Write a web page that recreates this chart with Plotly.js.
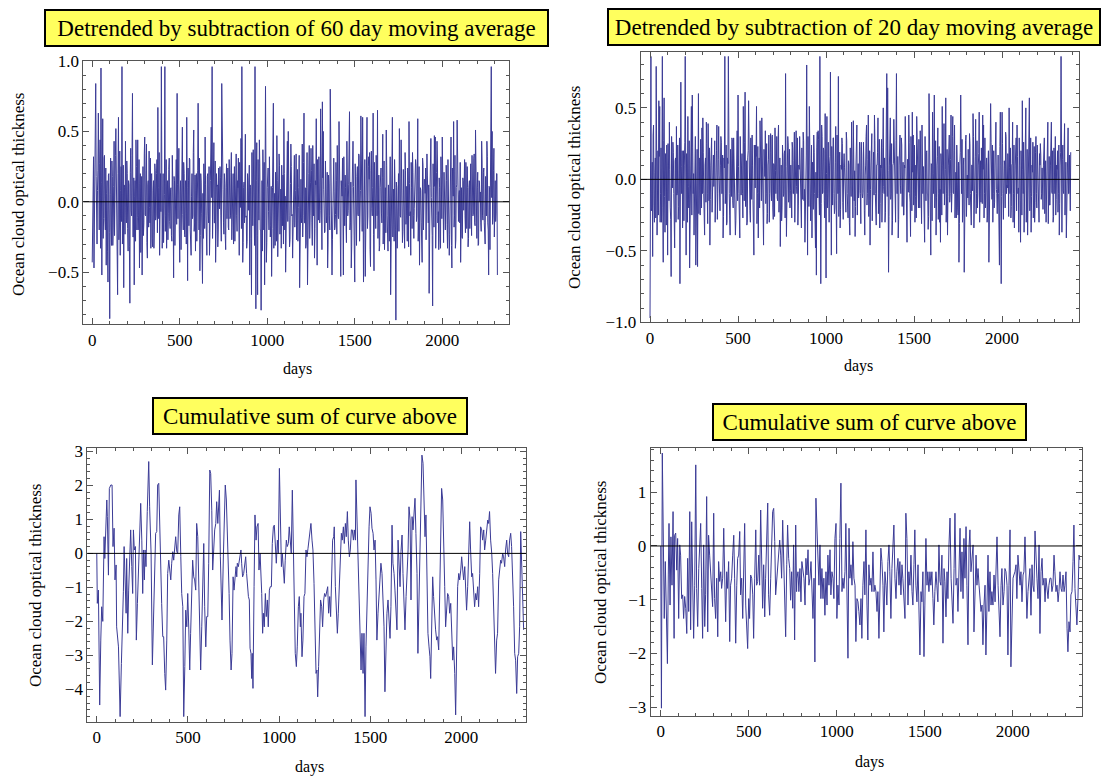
<!DOCTYPE html>
<html><head><meta charset="utf-8">
<script src="https://cdn.plot.ly/plotly-3.0.1.min.js"></script>
<style>html,body{margin:0;padding:0;background:#fff}#chart{width:1103px;height:776px}</style>
</head><body><div id="chart"></div>
<script>
// ---- data (days, values) ----
const step60 = 5; // days between samples, panel 1
const detrend60 = [
-0.43,0.17,-0.47,0.25,0.84,-0.15,0.08,0.63,-0.2,0.44,
0.95,-0.52,0.59,-0.12,0.33,-0.2,-0.45,0.15,-0.57,0.2,
-0.83,0.31,-0.31,0.18,-0.2,0.43,-0.08,0.52,-0.25,-0.66,
0.6,-0.15,-0.38,0.25,0.96,-0.2,-0.61,0.1,0.43,-0.15,
0.2,-0.35,0.12,-0.72,0.38,-0.1,0.77,-0.25,-0.59,0.15,
0.44,-0.2,0.44,-0.1,-0.47,0.2,-0.06,-0.52,0.25,-0.15,
0.46,-0.1,0.41,-0.4,0.15,0.36,-0.15,-0.33,0.2,-0.32,
0.15,-0.2,0.22,-0.1,0.3,0.67,-0.12,-0.38,0.2,0.96,
-0.33,0.2,-0.15,0.96,-0.1,-0.33,0.15,-0.08,0.31,-0.19,
0.1,-0.28,0.2,-0.54,0.15,-0.1,0.3,0.77,-0.12,0.38,
-0.43,0.15,-0.1,0.53,-0.2,0.2,-0.25,0.1,0.6,-0.56,
0.15,0.31,-0.2,-0.38,0.2,-0.1,0.51,-0.15,-0.35,0.2,
-0.1,0.7,-0.2,-0.49,0.2,-0.08,-0.58,-0.26,0.15,0.46,
-0.1,-0.38,0.2,-0.15,-0.38,0.15,0.53,0.96,-0.1,0.42,
-0.15,-0.43,0.2,0.12,-0.2,0.05,0.25,-0.1,0.84,0.28,
-0.15,0.2,-0.24,0.1,-0.12,0.24,-0.2,0.15,-0.1,0.35,
-0.1,0.2,-0.15,-0.28,0.2,-0.1,0.15,0.31,-0.38,0.15,
0.45,0.96,-0.43,0.1,-0.15,0.48,-0.1,-0.28,0.15,0.21,
-0.52,0.1,-0.66,0.15,0.37,-0.1,0.96,-0.76,0.42,-0.66,
0.1,0.44,-0.2,-0.77,0.15,0.37,-0.2,-0.59,0.82,-0.43,
0.1,0.24,-0.2,0.15,-0.17,-0.53,0.1,0.7,-0.1,-0.31,
0.15,0.47,-0.39,0.1,0.26,-0.1,-0.33,0.1,0.19,0.59,
-0.2,-0.5,0.15,0.43,0.5,-0.1,-0.27,0.41,-0.1,-0.4,
0.15,0.33,-0.1,0.34,-0.15,-0.28,0.1,-0.61,0.07,-0.15,
0.41,-0.1,0.63,-0.15,-0.33,0.1,-0.59,0.15,0.4,-0.1,
0.38,-0.15,0.4,-0.1,-0.4,0.15,0.59,-0.45,0.1,0.32,
-0.15,0.66,-0.1,0.71,0.5,-0.1,-0.21,0.15,-0.1,-0.47,
0.19,-0.1,0.8,-0.15,-0.52,0.1,0.31,-0.2,-0.09,0.15,
0.4,-0.1,0.57,-0.15,-0.53,0.1,0.31,-0.52,0.1,0.19,
-0.15,0.43,-0.1,0.12,0.64,-0.15,-0.47,0.1,0.43,-0.2,
-0.57,0.1,-0.31,0.25,-0.1,0.33,-0.15,0.61,-0.1,0.6,
-0.57,0.1,-0.53,0.15,0.6,-0.1,0.32,0.35,-0.46,0.36,
-0.1,0.63,-0.49,0.1,-0.19,0.15,0.65,-0.1,-0.35,0.1,
0.24,-0.15,0.48,-0.1,-0.34,0.1,0.51,-0.1,-0.35,0.02,
0.2,-0.66,0.1,0.6,-0.1,-0.28,0.1,-0.84,0.1,-0.09,
0.2,0.52,-0.1,0.44,-0.1,-0.21,0.1,-0.33,0.22,-0.1,
-0.28,0.15,0.57,-0.1,-0.38,0.1,0.35,-0.1,-0.05,0.2,
0.26,-0.1,0.59,-0.15,-0.45,0.1,-0.15,-0.43,0.26,-0.1,
0.15,0.24,-0.1,0.19,-0.15,-0.65,0.1,0.45,-0.1,-0.74,
0.1,0.47,0.46,-0.1,0.43,-0.15,-0.34,0.1,-0.33,0.15,
0.46,-0.1,0.21,-0.15,0.02,0.15,-0.33,0.1,-0.38,0.2,
0.46,-0.47,0.1,0.57,-0.1,-0.33,0.1,0.58,-0.1,0.05,
-0.15,-0.43,0.1,-0.26,0.15,0.21,-0.1,0.28,-0.19,0.1,
-0.26,0.15,0.09,-0.1,0.33,-0.1,0.31,-0.15,0.51,-0.09,
0.1,-0.31,0.15,0,-0.15,0.43,-0.1,0.21,-0.15,-0.3,
0.1,0.43,-0.15,-0.52,0.1,0.4,0.96,0.5,-0.1,0.38,
-0.1,-0.14,0.2,-0.52];
// in-between readings of the dense band, half a step after each sample above
const detrend60mid = [
-0.21,0.32,-0.12,0.4,0.18,-0.3,0.22,-0.08,0.27,-0.33,
0.14,-0.05,-0.26,0.31,-0.12,0.24,0.06,-0.35,0.19,-0.22,
0.05,-0.18,0.29,-0.31,0.11,-0.24,0.33,0.02,-0.17,0.2,
-0.27,0.36,0.08,-0.14,-0.3,0.26,0.12,-0.23,-0.04,0.29,
-0.19,0.15,-0.32,0.21,-0.06,0.33,-0.25,0.17,0.04,-0.28,
0.25,-0.11,-0.2,0.3,0.13,-0.36,0.18,0.07,-0.24,0.34,
-0.09,0.22,-0.29,0.12,-0.18,-0.04,0.31,0.19,-0.26,0.08,
-0.33,0.27,-0.13,0.2,-0.22,0.1,0.35,-0.2,-0.07,0.24,
0.16,-0.29,0.05,-0.21,0.3,0.11,-0.27,0.23,-0.14,0.09,
-0.24,0.33,-0.03,0.18,-0.31,0.26,-0.16,0.12,0.29,-0.2,
0.07,-0.34,0.21,-0.09,0.28,-0.23,0.15,-0.3,0.1,0.24,
-0.17,0.3,-0.26,0.04,-0.12,0.35,-0.21,0.19,0.08,-0.28,
0.22,-0.1,0.31,-0.24,0.14,-0.33,0.06,0.27,-0.19,0.12,
-0.3,0.18,-0.07,0.25,-0.22,0.32,0.03,-0.26,0.2,-0.15,
0.29,-0.2,0.11,-0.32,0.24,-0.05,0.17,-0.28,0.33,0.09,
-0.23,0.13,-0.34,0.27,0.02,-0.18,0.3,-0.12,0.21,-0.27,
0.16,-0.3,0.25,-0.08,0.34,-0.21,0.1,-0.25,0.28,-0.04,
-0.19,0.23,-0.29,0.14,0.31,-0.11,-0.33,0.2,-0.06,0.26,
0.12,-0.26,0.35,-0.17,0.07,-0.31,0.22,0.15,-0.24,0.3,
-0.13,0.27,-0.2,0.05,-0.35,0.19,0.28,-0.1,0.24,-0.29,
0.18,-0.07,0.32,-0.25,0.11,-0.19,0.3,-0.33,0.06,0.21,
-0.28,0.15,-0.12,0.34,-0.23,0.09,0.26,-0.17,-0.3,0.2,
0.04,-0.24,0.29,-0.14,0.19,-0.32,0.13,0.25,-0.09,-0.21,
0.31,-0.18,0.08,-0.27,0.23,-0.04,0.33,-0.22,0.16,-0.11,
-0.25,0.28,-0.15,0.1,-0.3,0.35,-0.08,0.2,-0.26,0.14,
0.22,-0.31,0.05,0.27,-0.19,0.12,-0.24,0.3,-0.13,0.18,
-0.06,0.25,-0.34,0.17,0.09,-0.22,0.29,-0.15,0.21,-0.3,
0.13,-0.2,0.33,-0.1,-0.27,0.24,0.07,-0.18,0.28,-0.23,
0.19,-0.12,0.26,-0.33,0.15,0.04,-0.25,0.32,-0.17,0.1,
-0.29,0.21,-0.06,0.3,-0.2,0.14,-0.32,0.23,0.11,-0.16,
0.27,-0.24,0.18,-0.09,0.34,-0.28,0.08,0.2,-0.21,0.12,
-0.15,0.3,-0.27,0.06,-0.19,0.25,0.16,-0.34,0.22,-0.05,
0.1,-0.23,0.28,-0.14,0.33,-0.1,-0.26,0.19,-0.31,0.24,
-0.08,0.17,-0.3,0.29,0.05,-0.22,0.26,-0.18,0.12,-0.28,
0.32,-0.13,0.2,-0.25,0.09,0.3,-0.2,0.14,-0.33,0.07,
-0.21,0.26,-0.11,0.18,-0.29,0.23,-0.04,0.35,-0.16,0.11,
0.24,-0.32,0.13,-0.07,0.28,-0.19,0.21,-0.26,0.05,0.3,
-0.14,0.19,-0.28,0.25,-0.1,0.08,-0.23,0.31,-0.2,0.16,
0.06,-0.27,0.34,-0.15,0.12,-0.3,0.22,0.03,-0.24,0.27,
-0.18,0.11,-0.33,0.21,0.29,-0.07,0.17,-0.26,0.32,-0.12,
0.2,-0.29,0.09,-0.2,0.26,-0.16,0.3,-0.1,-0.23,0.15,
-0.31,0.24,0.04,-0.18,0.33,-0.27,0.12,0.22,-0.14,0.08,
0.28,-0.11,-0.25,0.17,-0.06,0.3,-0.22,0.13,0.25,-0.32,
0.1,-0.19,0.27,-0.24,0.16,-0.09,0.34,-0.17,0.05,-0.26,
0.21,-0.3,0.14,0.07,-0.21,0.29,-0.13,0.24,-0.28,0.18,
-0.1,0.32,-0.2,0.11,-0.34,0.26,0.03,-0.16,0.22,-0.25,
0.15,-0.08,0.2];

const step20 = 5; // days between samples, panel 2
const detrend20 = [
-0.97,0.86,-0.2,-0.54,0.38,-0.3,0.15,0.79,-0.39,0.2,
0.55,0.51,-0.1,-0.3,0.86,-0.58,0.57,-0.37,0.1,0.24,
-0.53,0.1,0.4,-0.2,-0.68,0.1,0.26,-0.1,-0.48,0.15,
0.37,-0.1,-0.28,0.1,-0.73,0.68,-0.1,-0.34,0.2,0.1,
0.86,-0.53,0.1,0.44,-0.2,-0.62,0.1,0.51,0.59,-0.1,
-0.39,0.15,-0.6,0.1,-0.61,0.6,-0.1,-0.25,0.15,0.36,
0.43,-0.1,-0.39,0.15,0.4,-0.1,0.39,-0.15,-0.46,0.1,
0.29,-0.1,0.17,0.05,-0.3,0.1,0.38,-0.1,0.37,-0.2,
0.1,0.26,-0.1,-0.41,0.15,0.86,-0.1,-0.32,0.15,0.86,
-0.1,-0.39,0.1,0.29,-0.15,0.29,-0.1,-0.39,0.15,0.34,
0.59,-0.1,-0.41,0.15,0.1,-0.1,0.51,-0.15,0.61,-0.1,
-0.32,0.15,0.55,-0.1,-0.3,0.1,0.31,-0.15,-0.53,0.1,
0.24,0.51,-0.1,-0.41,0.15,0.41,-0.1,0.43,-0.15,-0.46,
0.1,0.34,-0.1,-0.31,0.1,0.31,-0.1,0.32,-0.15,0.31,
-0.28,0.1,0.36,-0.1,0.3,-0.15,0.38,-0.1,-0.47,0.1,
-0.2,0.15,-0.1,0.2,0.74,-0.4,0.19,0.24,-0.1,-0.2,
0.1,-0.27,0.22,-0.1,0.33,-0.15,0.34,-0.1,-0.32,0.1,
0.3,-0.1,-0.34,0.1,0.33,-0.15,-0.44,0.1,0.8,-0.53,
0.1,0.51,0.31,-0.1,-0.41,0.1,0.31,-0.1,-0.48,-0.67,
0.33,0.34,-0.1,0.86,-0.73,0.38,-0.1,0.22,-0.15,0.46,
-0.69,0.44,-0.1,-0.3,0.1,0.75,-0.53,0.1,0.29,-0.1,
-0.2,0.37,-0.52,0.1,0.72,-0.1,-0.34,0.1,0.29,-0.16,
0.1,0.08,-0.1,0.33,-0.1,-0.27,0.1,-0.39,0.1,0.4,
-0.1,0.41,-0.15,-0.4,0.1,0.38,-0.1,-0.13,0.26,-0.1,
0.26,-0.1,-0.09,0.1,-0.39,0.1,0.38,-0.1,0.45,-0.15,
-0.46,0.1,0.32,-0.1,0.19,0.45,-0.1,-0.32,0.1,0.43,
-0.1,-0.34,0.1,0.28,-0.1,0.5,-0.1,-0.3,0.1,0.74,
0.64,-0.65,0.1,0.43,-0.1,-0.39,0.1,0.42,-0.1,-0.3,
0.74,-0.1,-0.41,0.1,0.31,-0.1,0.24,-0.1,-0.25,0.1,
0.44,-0.1,-0.44,0.1,0.45,-0.1,-0.4,0.1,0.47,0.31,
-0.1,-0.3,0.1,0.44,-0.1,-0.2,0.1,0.34,-0.1,0.38,
-0.1,-0.3,-0.44,0.1,0.19,-0.1,-0.35,0.6,-0.1,-0.53,
0.1,0.47,-0.1,0.59,-0.1,-0.39,0.1,0.36,-0.1,-0.3,
-0.44,0.1,0.51,-0.1,0.39,-0.1,0.57,-0.1,-0.39,0.1,
0.31,-0.1,0.45,-0.1,0.44,-0.1,0.38,-0.1,-0.27,0.1,
-0.25,-0.58,0.1,0.59,-0.1,-0.3,0.1,-0.65,0.24,0.31,
-0.1,-0.13,0.1,0.32,-0.1,-0.32,0.1,0.46,-0.34,0.1,
0.42,-0.1,-0.2,0.1,0.47,-0.1,-0.16,0.1,0.45,0.38,
-0.1,-0.2,0.1,-0.3,0.1,-0.58,0.1,0.53,-0.1,0.24,
-0.1,-0.2,0.1,0.4,-0.1,0.08,-0.1,-0.6,0.47,-0.73,
0.47,-0.1,-0.04,0.1,0.33,-0.1,-0.06,0.1,0.5,-0.1,
-0.27,0.1,0.4,-0.1,-0.34,0.1,0.29,0.38,-0.1,-0.37,
0.1,-0.44,0.1,0.55,-0.1,-0.37,0.1,0.5,-0.1,-0.39,
0.1,0.57,-0.1,-0.37,0.1,0.26,-0.1,-0.3,0.19,-0.1,
0.24,-0.1,-0.3,0.1,0.17,-0.1,-0.09,0.1,0.29,-0.1,
-0.3,0.1,0.4,-0.1,-0.18,0.1,0.4,-0.1,-0.3,0.22,
-0.1,-0.25,0.1,0.2,-0.1,-0.39,0.1,0.86,-0.37,0.24,
-0.1,0.39,-0.1,-0.41,0.1,0.36,-0.1,-0.2,0.19];
const detrend20mid = [
0.28,-0.22,0.12,0.31,-0.18,0.05,-0.27,0.2,-0.09,-0.25,
0.16,-0.3,0.22,0.08,-0.2,0.27,-0.12,0.18,-0.32,0.1,
0.25,-0.15,0.07,-0.28,0.3,-0.06,0.19,-0.23,0.13,-0.3,
-0.11,0.24,-0.19,0.29,-0.26,0.09,0.2,-0.14,-0.29,0.26,
-0.08,0.18,-0.3,-0.05,0.27,-0.21,0.11,-0.25,0.22,0.04,
-0.18,0.3,-0.13,0.21,-0.07,-0.24,0.15,0.28,-0.2,-0.1,
0.19,-0.27,0.1,-0.16,0.25,-0.31,0.06,0.22,-0.14,0.29,
-0.23,0.12,-0.05,0.27,-0.19,0.2,-0.28,0.14,0.03,-0.22,
0.3,-0.1,0.17,-0.26,0.08,-0.17,0.24,-0.3,0.11,-0.02,
-0.25,0.21,-0.12,0.28,-0.2,0.16,-0.07,-0.29,0.23,-0.15,
0.09,-0.24,0.3,-0.11,0.18,-0.27,0.05,0.26,-0.19,0.13,
-0.3,0.2,0.07,-0.22,0.29,-0.14,0.1,-0.26,0.24,-0.06,
0.16,-0.31,0.23,-0.09,-0.2,0.27,-0.15,0.12,-0.28,0.21,
0.02,-0.17,0.25,-0.24,0.14,-0.3,0.19,-0.08,0.3,-0.2,
0.11,-0.26,0.06,0.22,-0.13,0.28,-0.23,0.15,-0.04,-0.29,
0.24,-0.12,0.18,-0.27,0.09,-0.19,0.3,-0.16,0.21,-0.08,
-0.22,0.26,-0.1,0.13,-0.3,0.2,-0.05,0.29,-0.18,0.07,
0.15,-0.28,0.22,-0.14,0.27,-0.07,-0.24,0.17,-0.11,0.3,
-0.19,0.08,-0.29,0.24,0.12,-0.21,0.19,-0.32,0.05,0.22,
-0.13,0.28,-0.25,0.1,-0.17,0.3,-0.09,0.2,-0.27,0.14,
0.04,-0.2,0.26,-0.3,0.16,-0.06,0.23,-0.18,0.29,-0.24,
0.12,-0.15,0.31,-0.1,-0.26,0.19,-0.21,0.07,0.25,-0.28,
0.18,-0.04,-0.23,0.27,-0.16,0.13,-0.3,0.22,-0.12,0.09,
-0.27,0.24,0.06,-0.19,0.29,-0.25,0.11,-0.08,0.21,-0.31,
0.17,-0.13,0.26,-0.22,0.03,0.3,-0.18,0.14,-0.26,0.2,
-0.07,0.23,-0.29,0.16,-0.11,0.27,-0.2,0.1,0.19,-0.24,
0.28,-0.17,0.08,-0.3,0.22,-0.05,0.15,-0.23,0.3,-0.12,
0.06,-0.26,0.2,-0.14,0.25,-0.29,0.11,0.18,-0.21,0.27,
-0.1,0.16,-0.28,0.23,-0.04,0.29,-0.19,0.12,-0.25,0.08,
0.21,-0.3,0.14,-0.09,0.26,-0.16,0.3,-0.22,0.05,-0.18,
0.24,-0.12,-0.27,0.19,-0.06,0.28,-0.2,0.13,-0.31,0.17,
0.09,-0.23,0.3,-0.15,0.2,-0.1,-0.26,0.25,-0.17,0.11,
-0.29,0.22,0.04,-0.2,0.27,-0.13,0.16,-0.28,0.23,-0.07,
0.18,-0.25,0.1,0.29,-0.18,0.07,-0.3,0.21,-0.12,0.26,
-0.16,0.14,-0.23,0.3,-0.09,0.2,-0.27,0.05,0.24,-0.2,
0.12,-0.31,0.19,-0.06,0.28,-0.22,0.15,-0.14,0.27,-0.26,
0.03,0.21,-0.18,0.25,-0.29,0.1,-0.08,0.3,-0.21,0.16,
-0.24,0.27,-0.11,0.18,-0.3,0.13,0.22,-0.17,0.07,-0.27,
0.29,-0.09,0.15,-0.25,0.2,-0.19,0.06,0.26,-0.14,-0.3,
0.2,-0.16,0.28,-0.07,-0.24,0.17,-0.29,0.23,0.1,-0.12,
0.25,-0.28,0.13,-0.2,0.3,-0.04,0.18,-0.26,0.08,0.22,
-0.19,0.11,-0.3,0.24,-0.13,0.27,-0.22,0.16,-0.06,0.29,
-0.15,0.2,-0.25,0.07,0.26,-0.18,0.12,-0.3,0.21,-0.1,
0.17,-0.22,0.29,-0.12,0.05,-0.27,0.23,-0.16,0.3,-0.2,
0.1,-0.29,0.18,0.25,-0.14,0.08,-0.21,0.28,-0.24,0.13,
-0.05,0.22,-0.31,0.16,-0.18,0.27,-0.09,0.2,-0.26,0.11,
0.3,-0.14,0.07,-0.23,0.24,-0.17,0.19,-0.28,0.14,-0.08,
0.21,-0.25,0.12,-0.19,0.26,-0.1,0.17,-0.22];

// [day, value] pairs, panel 3
const cumsum60 = [
[0,0.0],[3,-1.47],[9,-1.08],[16,-4.46],[22,-2.55],[27,-1.57],[33,-2.0],[40,0.49],[44,-0.15],[49,0.69],
[55,1.57],[58,1.08],[64,-0.64],[69,1.91],[77,2.01],[84,2.01],[89,0.2],[95,0.74],[100,-0.78],[106,-0.34],
[109,-2.16],[119,-2.75],[128,-4.8],[135,-3.24],[141,-2.35],[146,-1.13],[150,0.2],[155,-0.88],[161,-1.76],[164,-0.15],
[170,-2.35],[175,-1.08],[181,-0.1],[186,0.69],[192,-0.39],[197,-1.18],[201,0.69],[206,0.1],[212,0.2],[217,-2.55],
[223,-1.47],[228,-0.44],[234,0.39],[241,1.47],[247,0.39],[252,-1.18],[256,0.1],[261,-0.78],[265,0.1],[270,-0.39],
[277,1.23],[285,2.7],[290,1.37],[298,0.0],[305,-3.28],[311,-1.67],[316,-0.39],[323,0.59],[329,0.64],[334,2.01],
[340,2.06],[345,0.88],[351,-0.83],[356,-1.47],[362,-2.45],[367,-2.45],[373,-3.53],[378,-4.02],[384,-2.55],[389,-0.59],
[395,-0.2],[400,-0.49],[406,-0.78],[411,-0.29],[417,0.05],[422,-0.2],[428,0.2],[433,0.49],[439,0.05],[444,0.0],
[450,1.13],[455,1.37],[461,-0.1],[466,-1.18],[472,-1.57],[477,-4.8],[483,-3.33],[488,-1.67],[494,-2.16],[499,-1.18],
[505,-2.25],[510,-3.43],[515,-2.35],[521,-0.59],[526,-0.2],[532,-0.69],[537,-0.78],[543,-1.08],[548,0.88],[554,0.49],
[559,-1.08],[565,-2.55],[570,-3.43],[576,-2.16],[581,-0.59],[587,0.29],[592,-1.57],[598,-2.75],[603,-1.86],[609,-1.86],
[614,-0.29],[620,2.45],[625,2.35],[631,1.27],[636,-0.49],[642,0.39],[647,0.69],[653,0.88],[658,1.52],[664,0.88],
[669,1.42],[673,1.86],[678,-0.1],[684,-0.98],[687,-1.96],[695,0.0],[700,1.27],[705,2.01],[711,1.57],[717,0.59],
[720,0.44],[726,-1.18],[731,-2.55],[737,-3.43],[742,-2.94],[748,-0.69],[753,-1.08],[758,-0.59],[764,-0.39],[768,-0.69],
[771,-0.29],[777,-0.39],[782,-0.2],[786,-0.05],[791,0.1],[795,-0.29],[800,-0.69],[806,-0.59],[811,-0.39],[817,-0.1],
[822,-0.59],[826,-0.88],[832,-1.27],[837,-1.37],[841,-2.79],[846,-2.94],[850,-3.68],[853,-2.94],[857,-3.97],[863,-0.98],
[868,1.13],[874,0.39],[879,0.78],[885,0.88],[890,-0.49],[896,0.0],[899,-0.29],[905,-1.18],[910,-2.35],[914,-1.76],
[919,-2.16],[925,-1.18],[930,-1.86],[936,-1.37],[941,-2.16],[947,-1.08],[952,-0.98],[958,-0.98],[963,0.29],[969,0.78],
[974,0.83],[980,0.2],[985,-0.29],[991,0.39],[996,0.0],[1002,2.5],[1007,0.59],[1013,-0.39],[1018,0.0],[1024,-0.49],
[1029,-0.88],[1034,-0.2],[1040,0.39],[1045,0.2],[1051,0.29],[1056,0.78],[1062,0.2],[1067,0.0],[1073,1.86],[1078,0.0],
[1084,-1.18],[1089,-2.94],[1095,-3.33],[1100,-2.75],[1106,-1.57],[1111,-1.27],[1117,-2.16],[1120,-1.76],[1126,-3.04],[1131,-2.55],
[1137,-1.27],[1142,-1.18],[1148,0.1],[1153,-0.1],[1159,0.15],[1164,0.39],[1170,0.74],[1175,0.88],[1181,0.39],[1186,0.1],
[1192,-0.88],[1197,-1.76],[1203,-3.53],[1208,-3.43],[1212,-4.22],[1217,-3.33],[1223,-2.16],[1228,-1.37],[1234,-1.57],[1239,-2.16],
[1245,-1.37],[1250,-1.18],[1256,-1.27],[1261,-1.08],[1267,-0.98],[1272,-1.76],[1278,-1.27],[1283,-1.86],[1289,-0.59],[1294,0.39],
[1300,0.49],[1303,0.78],[1309,-0.98],[1314,-1.76],[1320,-2.35],[1325,-1.76],[1331,-0.69],[1336,-0.49],[1342,0.59],[1347,0.39],
[1353,0.78],[1358,0.29],[1364,0.88],[1369,0.49],[1375,1.23],[1380,0.39],[1386,-0.1],[1391,0.1],[1397,0.69],[1402,0.69],
[1408,0.39],[1413,0.69],[1419,0.39],[1422,2.16],[1428,0.88],[1433,-0.39],[1439,-0.98],[1444,-2.16],[1450,-3.43],[1455,-2.35],
[1461,-3.53],[1466,-2.35],[1472,-4.8],[1477,-2.75],[1483,-1.37],[1488,-0.49],[1494,0.78],[1499,1.37],[1505,1.18],[1510,0.74],
[1516,0.59],[1521,0.1],[1527,0.39],[1532,-0.78],[1537,-2.55],[1543,-1.76],[1548,-1.37],[1554,-0.78],[1559,-0.29],[1565,-0.59],
[1570,-1.37],[1576,-2.16],[1581,-4.07],[1587,-2.55],[1592,-1.76],[1598,-1.37],[1603,-2.06],[1609,-2.5],[1614,-1.57],[1620,0.83],
[1625,-0.29],[1631,-0.59],[1636,-1.08],[1642,-1.67],[1647,-2.25],[1653,0.39],[1658,-0.59],[1664,-0.98],[1669,0.05],[1675,0.54],
[1680,-0.59],[1686,-1.37],[1691,-2.25],[1697,-1.27],[1702,-0.59],[1708,0.1],[1713,1.37],[1719,0.98],[1724,-1.37],[1730,1.08],
[1735,0.69],[1741,1.37],[1746,1.62],[1751,0.59],[1757,-0.59],[1762,-2.94],[1768,-1.37],[1773,0.88],[1779,2.16],[1784,2.89],
[1790,2.65],[1795,1.57],[1801,0.49],[1806,1.13],[1812,-0.98],[1817,-2.35],[1823,-2.75],[1828,-3.04],[1832,-3.68],[1837,-2.25],
[1843,-0.69],[1848,-1.27],[1854,-1.96],[1859,-2.25],[1865,-2.55],[1870,-2.45],[1876,-2.84],[1881,-1.57],[1887,0.78],[1892,1.91],
[1898,1.57],[1903,0.69],[1909,-0.98],[1914,-2.16],[1920,-1.76],[1925,-1.18],[1931,-1.27],[1936,-1.76],[1942,-1.47],[1947,-2.16],
[1953,-3.14],[1958,-2.75],[1964,-3.53],[1969,-4.75],[1975,-2.16],[1980,-0.98],[1986,-0.59],[1991,-0.78],[1997,-0.49],[2002,-0.1],
[2008,-0.49],[2013,-0.78],[2019,-0.39],[2024,-0.98],[2029,-1.67],[2035,-0.98],[2040,0.0],[2046,0.93],[2051,0.1],[2057,-0.69],
[2062,-0.59],[2068,-1.08],[2073,-1.57],[2079,-1.18],[2084,-1.37],[2090,-0.98],[2095,-1.57],[2101,-0.59],[2106,0.78],[2112,0.69],
[2117,0.39],[2123,0.69],[2128,0.1],[2134,0.39],[2139,0.59],[2145,0.98],[2150,0.88],[2155,1.23],[2161,0.39],[2167,0.0],
[2172,-0.59],[2178,-1.96],[2183,-2.65],[2188,-3.53],[2194,-2.55],[2199,-2.35],[2205,-0.78],[2210,-0.39],[2216,-0.2],[2221,-0.29],
[2227,0.0],[2232,-0.1],[2238,-0.39],[2243,0.1],[2249,0.39],[2254,0.0],[2260,-0.1],[2265,0.39],[2271,0.59],[2276,0.2],
[2282,-0.59],[2287,-1.57],[2293,-2.94],[2298,-3.14],[2304,-4.12],[2309,-3.04],[2315,-2.94],[2320,-2.16],[2326,0.64],[2331,-0.29],
[2337,-1.57],[2342,-2.25]];

// [day, value] pairs, panel 4
const cumsum20 = [
[0,0.0],[4,-3.02],[9,1.73],[15,-0.29],[20,-1.35],[26,-0.29],[32,-1.35],[38,-2.19],[43,-0.54],[47,0.42],
[53,-1.1],[58,0.17],[64,-0.73],[70,0.64],[76,-1.72],[79,0.2],[85,0.24],[91,-0.45],[96,0.14],[102,-1.35],
[108,0.02],[113,-0.17],[119,-0.98],[125,-0.91],[130,-1.35],[136,-0.94],[142,-1.16],[148,-1.63],[153,-0.23],[159,-1.22],
[165,0.64],[170,-1.56],[176,0.45],[182,-0.79],[187,-1.72],[193,-0.73],[199,1.51],[204,-0.79],[210,-1.5],[216,-0.42],
[221,0.17],[227,0.42],[233,-0.79],[238,-1.72],[244,0.02],[250,-1.5],[255,-0.91],[261,0.92],[267,-1.6],[272,0.2],
[278,-0.17],[284,-0.6],[289,-0.79],[295,-1.13],[301,0.61],[306,-0.98],[312,-1.35],[318,-0.6],[324,-1.69],[329,-0.29],
[335,-0.66],[341,-0.48],[346,-0.79],[352,-0.6],[358,0.33],[363,-0.73],[369,-1.41],[375,-0.48],[380,-0.79],[386,-0.29],
[392,-1.78],[397,-0.73],[403,-0.6],[409,-0.17],[415,0.2],[420,-0.6],[426,-1.81],[432,-0.73],[437,-0.23],[443,-0.17],
[449,0.27],[454,-0.91],[460,-0.6],[466,-1.35],[471,-0.73],[477,0.42],[483,-1.1],[488,-1.47],[494,-1.91],[500,-0.98],
[505,-1.35],[511,-0.54],[517,-0.6],[523,-0.91],[528,-1.72],[534,-0.6],[540,0.3],[545,-0.73],[551,-0.66],[557,-0.17],
[562,-0.73],[568,0.67],[574,-0.6],[579,-1.16],[585,-0.35],[591,-1.32],[596,-0.6],[602,0.17],[608,0.8],[613,-0.91],
[619,-1.29],[625,-0.6],[630,-0.17],[636,0.64],[642,0.7],[648,0.08],[653,-0.91],[659,-0.6],[665,-0.42],[670,-0.23],
[676,0.11],[682,-0.17],[687,-0.6],[693,0.48],[699,-0.35],[704,-0.6],[710,-1.69],[716,-0.35],[721,0.39],[727,-0.23],
[733,-0.42],[738,-1.01],[744,-0.48],[750,-1.16],[755,0.02],[761,-1.75],[767,0.39],[772,-0.85],[774,-0.6],[780,-0.48],
[785,-0.85],[791,-0.42],[797,-1.04],[802,-0.29],[808,-0.48],[814,-0.6],[820,-1.1],[825,-0.23],[831,-0.54],[837,-0.07],
[842,-0.73],[848,-0.6],[854,-0.29],[859,-0.91],[865,-1.35],[871,-0.6],[876,-2.16],[882,0.89],[888,0.36],[893,0.08],
[899,-0.73],[905,0.02],[910,-0.98],[916,-0.42],[922,-0.98],[927,-0.6],[933,-1.29],[939,-0.48],[945,-1.1],[950,-0.17],
[956,-0.73],[962,-0.07],[967,-0.91],[973,-0.48],[979,-0.6],[984,-0.98],[990,0.14],[996,0.42],[1001,-1.35],[1007,-0.73],
[1013,-1.1],[1018,0.14],[1024,1.17],[1030,-0.85],[1035,-0.6],[1041,-0.79],[1047,-0.48],[1052,0.42],[1058,-0.91],[1064,-2.09],
[1070,0.33],[1075,-0.6],[1081,-0.35],[1087,-0.73],[1092,0.08],[1098,-0.6],[1104,-0.73],[1109,-1.78],[1115,-0.98],[1121,-1.04],
[1126,-1.22],[1132,-1.47],[1138,-0.98],[1143,-1.72],[1149,-0.73],[1155,-0.29],[1160,-0.91],[1166,0.3],[1172,-1.1],[1177,-1.75],
[1183,-0.35],[1189,-0.73],[1195,-0.6],[1200,-0.85],[1206,-0.11],[1212,-0.85],[1217,-0.73],[1223,-0.85],[1229,-1.22],[1234,-0.85],
[1240,-1.72],[1246,-0.73],[1251,-0.04],[1257,-0.29],[1263,-0.73],[1268,-1.6],[1274,-0.48],[1280,-0.73],[1285,-1.1],[1291,-0.29],
[1297,0.02],[1302,-0.48],[1308,-1.35],[1314,-0.42],[1320,0.08],[1325,0.39],[1331,-0.6],[1337,-0.98],[1342,-0.48],[1348,-0.23],
[1354,-0.73],[1359,-0.29],[1365,-0.91],[1371,-0.35],[1376,-0.6],[1382,-0.98],[1388,-1.35],[1393,0.61],[1399,0.14],[1405,-1.1],
[1410,-0.48],[1416,-0.73],[1422,-0.17],[1428,-0.85],[1433,-1.1],[1439,-0.35],[1444,0.3],[1450,-0.73],[1456,-1.04],[1462,-0.35],
[1467,-1.35],[1473,-2.03],[1479,-0.85],[1484,-1.04],[1490,-0.48],[1496,-2.06],[1501,-1.1],[1507,0.14],[1513,-0.73],[1518,-0.48],
[1524,-0.85],[1530,-0.48],[1535,-0.73],[1541,-0.48],[1547,-0.98],[1552,-1.47],[1558,-0.85],[1564,-0.48],[1569,-0.73],[1575,-1.04],
[1581,0.02],[1587,-0.66],[1592,-0.73],[1598,-0.17],[1604,-1.81],[1610,-0.42],[1615,-0.66],[1621,-1.32],[1627,-0.48],[1632,-0.98],
[1638,0.02],[1644,0.52],[1650,-0.6],[1655,-0.98],[1661,-1.44],[1667,-0.42],[1672,0.61],[1678,-0.73],[1684,-0.6],[1689,-1.22],
[1695,-0.35],[1701,0.33],[1706,-0.85],[1712,-0.11],[1718,-0.98],[1723,0.14],[1729,-0.6],[1735,0.36],[1740,-0.73],[1746,-1.84],
[1752,-0.02],[1757,0.3],[1763,-0.48],[1769,-0.11],[1775,0.02],[1780,-1.6],[1786,-1.04],[1792,-0.17],[1797,-0.73],[1803,-0.42],
[1809,-0.73],[1814,-0.98],[1820,-1.22],[1826,-1.1],[1831,-1.84],[1837,-1.1],[1843,-0.73],[1848,-2.03],[1854,-0.73],[1860,-0.17],
[1865,-1.22],[1871,-0.48],[1877,-1.1],[1882,-0.85],[1888,-1.1],[1894,-0.54],[1900,-1.04],[1905,-0.48],[1911,0.17],[1917,-0.73],
[1922,-1.1],[1928,-1.69],[1934,-0.73],[1939,-0.42],[1945,-1.1],[1951,-0.85],[1956,-0.42],[1962,-0.48],[1968,-0.73],[1973,-2.03],
[1979,-0.73],[1985,0.3],[1990,-2.25],[1996,-0.98],[2002,-0.6],[2007,-0.54],[2013,-0.48],[2019,-0.35],[2024,-0.98],[2030,-0.17],
[2036,-0.6],[2042,-0.73],[2047,-0.48],[2053,-1.04],[2059,-0.54],[2064,-0.48],[2070,0.17],[2076,-0.73],[2081,-1.35],[2087,-0.85],
[2093,-0.48],[2098,-0.42],[2104,-1.29],[2110,-0.35],[2115,-0.73],[2121,-0.85],[2127,0.28],[2132,-0.35],[2138,-0.6],[2144,-0.98],
[2150,0.02],[2155,-1.63],[2161,-0.48],[2167,-0.23],[2172,-0.73],[2178,-0.6],[2184,-1.04],[2189,-0.6],[2195,-0.85],[2201,-0.98],
[2206,-0.73],[2212,-0.6],[2218,-0.6],[2223,-0.85],[2229,-0.73],[2235,-0.17],[2240,-0.48],[2246,-0.85],[2252,-0.73],[2258,-1.04],
[2263,-0.85],[2269,-0.48],[2275,-0.79],[2280,-0.85],[2286,-0.54],[2292,-0.85],[2297,-0.73],[2303,-0.48],[2309,-1.53],[2314,-1.97],
[2320,-1.41],[2326,-1.6],[2331,-0.91],[2337,-0.85],[2343,-0.29],[2348,0.39],[2354,-0.79],[2360,-1.35],[2365,-1.47],[2371,-0.98],
[2377,-0.17],[2382,-0.26]];

const panelTitles = [
  "Detrended by subtraction of 60 day moving average",
  "Detrended by subtraction of 20 day moving average",
  "Cumulative sum of curve above",
  "Cumulative sum of curve above"];
const yLabel = "Ocean cloud optical thickness";
const xLabel = "days";
const xTickVals = [0, 500, 1000, 1500, 2000];

// ---- drawing ----
const W = 1103, H = 776;
const serif = "Liberation Serif, Times New Roman, serif";
const lineColor = "#3b3b96";
const frame = "#555";

// merge the regular samples with the half-step readings in between
function interleave(vals, mids, step) {
  const x = [], y = [];
  vals.forEach((v, i) => {
    x.push(i * step); y.push(v);
    if (i < mids.length) { x.push(i * step + step / 2); y.push(mids[i]); }
  });
  return {x, y};
}
const p1 = interleave(detrend60, detrend60mid, step60);
const p2 = interleave(detrend20, detrend20mid, step20);

const traces = [
  {x: p1.x, y: p1.y, xaxis: "x", yaxis: "y"},
  {x: p2.x, y: p2.y, xaxis: "x2", yaxis: "y2"},
  {x: cumsum60.map(p => p[0]), y: cumsum60.map(p => p[1]), xaxis: "x3", yaxis: "y3"},
  {x: cumsum20.map(p => p[0]), y: cumsum20.map(p => p[1]), xaxis: "x4", yaxis: "y4"}
].map(t => Object.assign(t, {type: "scatter", mode: "lines", line: {color: lineColor, width: 1}, hoverinfo: "skip"}));

function px2x(a, b) { return [a / W, b / W]; }
function px2y(top, bottom) { return [1 - bottom / H, 1 - top / H]; }

const tickFont = {family: serif, size: 17, color: "#000"};
function xAxis(dom, range, anchor) {
  return {domain: dom, range: range, anchor: anchor, showgrid: false, zeroline: false,
    showline: true, linecolor: frame, linewidth: 1, mirror: "ticks",
    ticks: "inside", ticklen: 6, tickcolor: frame, tickvals: xTickVals,
    minor: {dtick: 100, tick0: 0, ticks: "inside", ticklen: 3, tickcolor: frame, showgrid: false},
    tickfont: tickFont, fixedrange: true};
}
function yAxis(dom, range, anchor, dtick, minor, fmt) {
  return {domain: dom, range: range, anchor: anchor, showgrid: false, zeroline: false,
    showline: true, linecolor: frame, linewidth: 1, mirror: "ticks",
    ticks: "inside", ticklen: 6, tickcolor: frame, dtick: dtick, tick0: 0, tickformat: fmt,
    minor: {dtick: minor, tick0: 0, ticks: "inside", ticklen: 3, tickcolor: frame, showgrid: false},
    tickfont: tickFont, fixedrange: true};
}

const layout = {
  width: W, height: H, margin: {l: 0, r: 0, t: 0, b: 0},
  paper_bgcolor: "#fff", plot_bgcolor: "#fff", showlegend: false,
  xaxis:  xAxis(px2x(83.3, 509.3), [-51, 2383], "y"),
  yaxis:  yAxis(px2y(61, 324.3), [-0.87, 1.0], "x", 0.5, 0.1, ".1f"),
  xaxis2: xAxis(px2x(640.7, 1079), [-53, 2437], "y2"),
  yaxis2: yAxis(px2y(51.7, 322.3), [-1.0, 0.893], "x2", 0.5, 0.1, ".1f"),
  xaxis3: xAxis(px2x(87.3, 526), [-52, 2355], "y3"),
  yaxis3: yAxis(px2y(448.3, 721.7), [-4.95, 3.09], "x3", 1, 0.2, "d"),
  xaxis4: xAxis(px2x(650.7, 1082), [-57, 2394], "y4"),
  yaxis4: yAxis(px2y(447.7, 715.7), [-3.16, 1.83], "x4", 1, 0.2, "d"),
  shapes: ["", "2", "3", "4"].map(s => ({type: "line", layer: "above", xref: "x" + s + " domain", yref: "y" + s,
    x0: 0, x1: 1, y0: 0, y1: 0, line: {color: "#000", width: 1}})),
  annotations: []
};

const titleBoxes = [
  {cx: 296, cy: 28, w: 495},
  {cx: 854, cy: 27, w: 484},
  {cx: 310, cy: 416, w: 306},
  {cx: 869.5, cy: 422, w: 305}];
titleBoxes.forEach((b, i) => layout.annotations.push({
  text: panelTitles[i], xref: "paper", yref: "paper", x: b.cx / W, y: 1 - b.cy / H,
  xanchor: "center", yanchor: "middle", showarrow: false, width: b.w, height: 28,
  bgcolor: "#ffff5e", bordercolor: "#000", borderwidth: 2, borderpad: 3,
  font: {family: serif, size: 23, color: "#000"}}));

const yLab = [[18, 195], [574, 188], [35, 586], [600, 583]];
yLab.forEach(p => layout.annotations.push({text: yLabel, xref: "paper", yref: "paper",
  x: p[0] / W, y: 1 - p[1] / H, xanchor: "center", yanchor: "middle", textangle: -90, showarrow: false,
  font: {family: serif, size: 17, color: "#000"}}));
const xLab = [[297, 369], [858, 366], [309, 767], [869, 762]];
xLab.forEach(p => layout.annotations.push({text: xLabel, xref: "paper", yref: "paper",
  x: p[0] / W, y: 1 - p[1] / H, xanchor: "center", yanchor: "middle", showarrow: false,
  font: {family: serif, size: 16, color: "#000"}}));

Plotly.newPlot("chart", traces, layout, {staticPlot: true, displayModeBar: false});
</script>
</body></html>
